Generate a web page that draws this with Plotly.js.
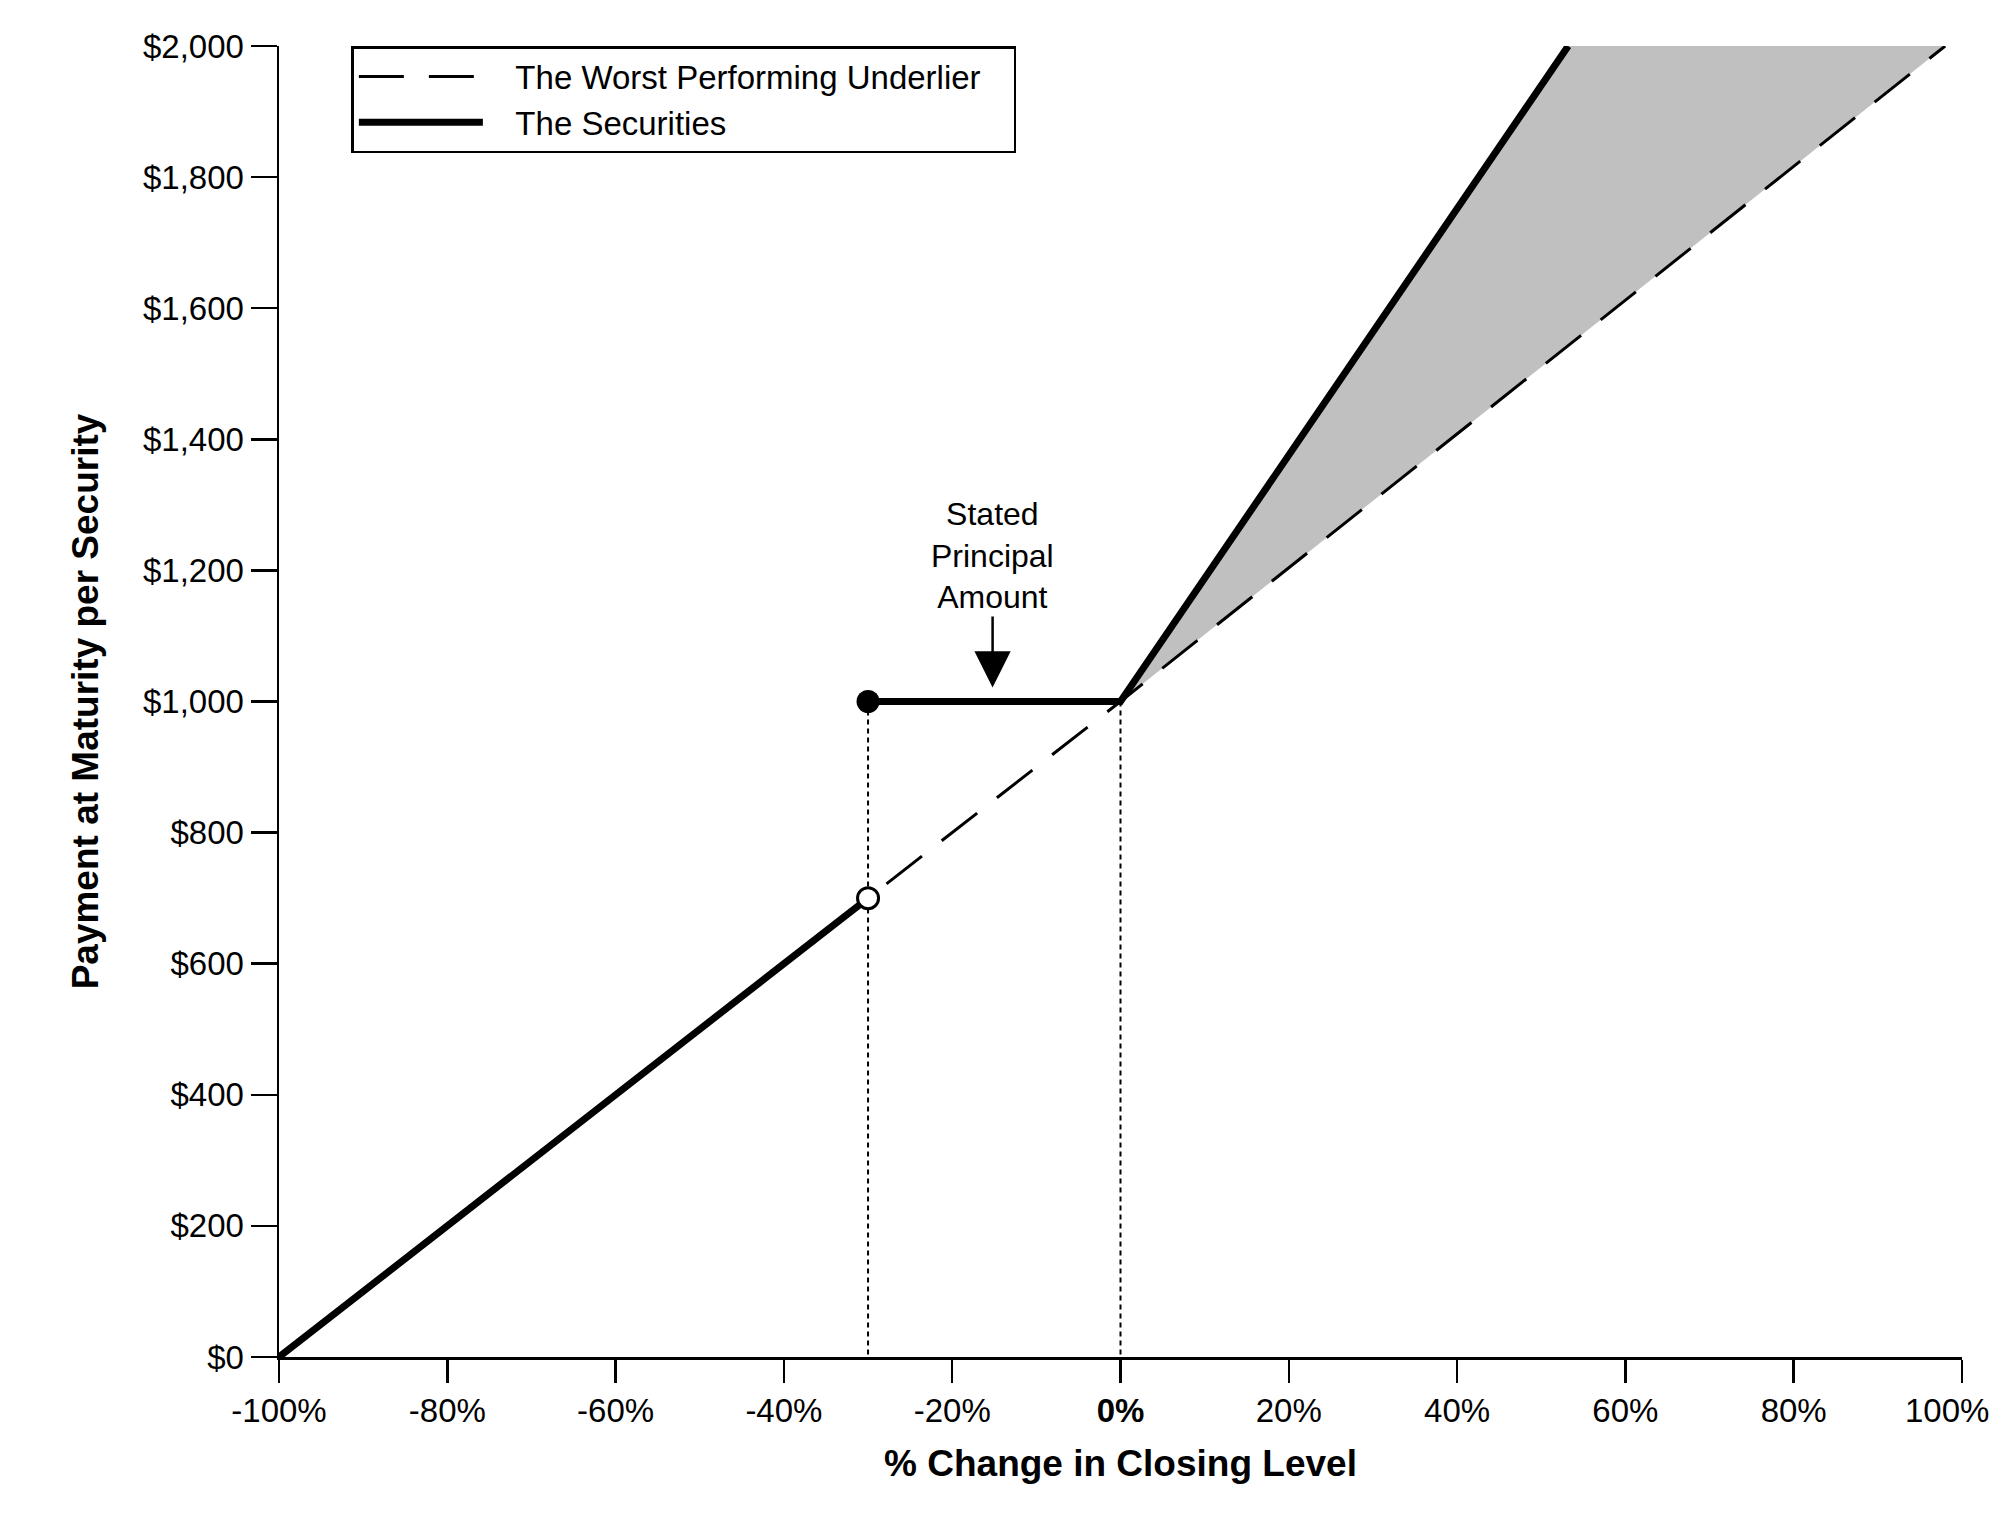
<!DOCTYPE html>
<html>
<head>
<meta charset="utf-8">
<script src="https://cdn.plot.ly/plotly-3.0.1.min.js"></script>
<style>
    html, body {margin: 0; padding: 0; background: #fff;}
    #payoff_graph {width: 1997px; height: 1513px;}
</style>
</head>
<body>
<div id="payoff_graph"></div>
<script>
// values (x in % change, y in $ per security)
const underlier_x = [-100, -30, 0, 98];
const underlier_y = [0, 700, 1000, 2000];

const securities_x = [-100, -30, null, -30, 0, 53.2];
const securities_y = [0, 700, null, 1000, 1000, 2000];

const upside_fill_x = [0, 53.2, 98];
const upside_fill_y = [1000, 2000, 2000];

const guide_x = [-30, -30, null, 0, 0];
const guide_y = [1000, 0, null, 1000, 0];

const closed_dot_x = [-30];
const closed_dot_y = [1000];
const open_dot_x = [-30];
const open_dot_y = [700];

const x_tick_vals = [-100, -80, -60, -40, -20, 0, 20, 40, 60, 80, 100];
const x_tick_text = ["-100%", "-80%", "-60%", "-40%", "-20%", "<b>0%</b>", "20%", "40%", "60%", "80%", "100%"];
const y_tick_vals = [0, 200, 400, 600, 800, 1000, 1200, 1400, 1600, 1800, 2000];
const y_tick_text = y_tick_vals.map(v => '$' + v.toLocaleString('en-US'));

const note_x = -15.2;
const note_y = 1000;

const font_name = '"Liberation Sans", Arial, sans-serif';
const nb = '\u00a0';

// the last tick label sits pulled in against the right edge in the picture,
// so it is drawn as an annotation instead of an axis label
const last_tick_label = x_tick_text[x_tick_text.length - 1];
const axis_tick_text = x_tick_text.slice(0, -1).concat(['']);

const graph_data = [
    {
        x: upside_fill_x, y: upside_fill_y,
        mode: 'lines', fill: 'toself', fillcolor: '#c0c0c0',
        line: {width: 0}, showlegend: false, hoverinfo: 'skip', cliponaxis: false
    },
    {
        x: underlier_x, y: underlier_y,
        name: nb + nb + nb + 'The Worst Performing Underlier' + nb + nb + nb,
        mode: 'lines', line: {color: '#000', width: 3, dash: '45px,25px'}, cliponaxis: false
    },
    {
        x: guide_x, y: guide_y,
        mode: 'lines', line: {color: '#000', width: 2, dash: '5px,4px'},
        showlegend: false, hoverinfo: 'skip'
    },
    {
        x: securities_x, y: securities_y,
        name: nb + nb + nb + 'The Securities',
        mode: 'lines', connectgaps: false,
        line: {color: '#000', width: 7}, cliponaxis: false
    },
    {
        x: closed_dot_x, y: closed_dot_y,
        mode: 'markers', showlegend: false,
        marker: {size: 23, color: '#000'}, cliponaxis: false
    },
    {
        x: open_dot_x, y: open_dot_y,
        mode: 'markers', showlegend: false,
        marker: {size: 21, color: '#fff', line: {color: '#000', width: 3}}, cliponaxis: false
    }
];

const layout = {
    width: 1997,
    height: 1513,
    margin: {l: 279, r: 35, t: 46, b: 156},
    paper_bgcolor: '#fff',
    plot_bgcolor: '#fff',
    font: {family: font_name, size: 33, color: '#000'},
    showlegend: true,
    legend: {
        x: 0.043, y: 1, xanchor: 'left', yanchor: 'top',
        bordercolor: '#000', borderwidth: 2.5, bgcolor: '#fff',
        itemwidth: 124,
        font: {family: font_name, size: 33, color: '#000'}
    },
    xaxis: {
        range: [-100, 100],
        tickvals: x_tick_vals,
        ticktext: axis_tick_text,
        ticks: 'outside', ticklen: 23, tickwidth: 2.5, tickcolor: '#000',
        showline: true, linecolor: '#000', linewidth: 2.5,
        showgrid: false, zeroline: false,
        tickfont: {family: font_name, size: 33},
        title: {
            text: '<b>% Change in Closing Level</b>',
            font: {family: font_name, size: 37},
            standoff: 22
        }
    },
    yaxis: {
        range: [0, 2000],
        tickvals: y_tick_vals,
        ticktext: y_tick_text,
        ticklabeloverflow: 'allow',
        ticks: 'outside', ticklen: 26, tickwidth: 2.5, tickcolor: '#000',
        showline: true, linecolor: '#000', linewidth: 2.5,
        showgrid: false, zeroline: false,
        tickfont: {family: font_name, size: 33},
        title: {
            text: '<b>Payment at Maturity per Security</b>',
            font: {family: font_name, size: 37},
            standoff: 33
        }
    },
    annotations: [
        {
            x: note_x, y: note_y, xref: 'x', yref: 'y',
            text: 'Stated<br>Principal<br>Amount',
            font: {family: font_name, size: 32, color: '#000'},
            showarrow: true, arrowhead: 2, arrowsize: 2.9, arrowwidth: 2.5, arrowcolor: '#000',
            ax: 0, ay: -146, standoff: 14
        },
        {
            x: 1, y: 0, xref: 'paper', yref: 'paper',
            xanchor: 'right', yanchor: 'middle',
            xshift: 29, yshift: -53,
            text: last_tick_label, showarrow: false,
            font: {family: font_name, size: 33, color: '#000'}
        }
    ]
};

Plotly.newPlot('payoff_graph', graph_data, layout, {displayModeBar: false, staticPlot: true});
</script>
</body>
</html>
